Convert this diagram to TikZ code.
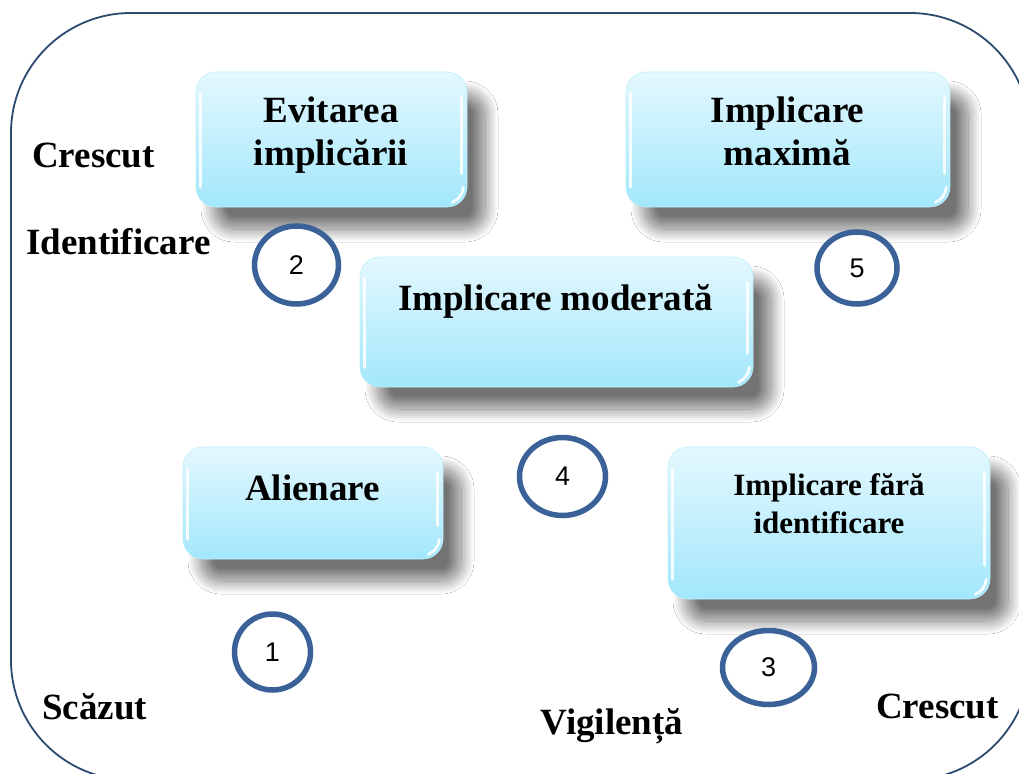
\documentclass[tikz,border=0pt]{standalone}
\usepackage{fontspec}
\setmainfont{Liberation Serif}
\newfontfamily\numfont{Liberation Sans}
\usetikzlibrary{shapes.geometric,shadows.blur,calc}
\definecolor{frameblue}{HTML}{2C4A70}
\definecolor{ringblue}{HTML}{3A6298}
\definecolor{boxtop}{HTML}{E4F8FE}
\definecolor{boxbot}{HTML}{A2E7FB}
\begin{document}
\begin{tikzpicture}[x=1pt,y=-1pt,
  bigtext/.style={font=\fontsize{37}{43}\selectfont\bfseries, inner sep=0pt, anchor=base},
  smalltext/.style={font=\fontsize{31}{38}\selectfont\bfseries, inner sep=0pt, anchor=base},
  box/.style={rectangle, rounded corners=20pt, draw=boxbot!70!white, line width=0.6pt,
    top color=boxtop, bottom color=boxbot, inner sep=0pt,
    blur shadow={shadow xshift=18pt, shadow yshift=-22pt, shadow blur radius=13pt,
      shadow blur steps=30, shadow opacity=55}},
  glint/.style={draw=white, line width=3pt, line cap=round, opacity=0.85},
  ring/.style={ellipse, draw=ringblue, fill=white, line width=5.5pt, inner sep=0pt,
    font=\numfont\fontsize{27}{32}\selectfont},
]
\useasboundingbox (0,0) rectangle (1019,773);
\fill[white] (0,0) rectangle (1019,773);
% frame
\draw[frameblue, line width=1.8pt, rounded corners=120pt] (11,13) rectangle (1030,780);

% boxes
\node[box, minimum width=271pt, minimum height=135pt] (b2) at (331.5,139.5) {};
\node[box, minimum width=324pt, minimum height=135pt] (b5) at (788,139.5) {};
\node[box, minimum width=393pt, minimum height=130pt] (b4) at (556.5,322) {};
\node[box, minimum width=260pt, minimum height=112pt] (b1) at (313,503) {};
\node[box, minimum width=322pt, minimum height=152pt] (b3) at (829,523) {};

% glossy highlights
\foreach \b in {b2,b5,b4,b1,b3}{
  \draw[glint] ($(\b.north west)+(5,22)$) -- ($(\b.south west)+(5,-20)$);
  \draw[glint] ($(\b.north east)+(-6,26)$) -- ($(\b.south east)+(-6,-34)$);
  \draw[glint] ($(\b.south east)+(-4,-20)$) to[bend left=30] ($(\b.south east)+(-15,-5)$);
}

% box texts
\node[bigtext] (t2) at (331,123) {\begin{tabular}[t]{@{}c@{}}Evitarea\\implicării\end{tabular}};
\node[bigtext] (t5) at (787.5,123) {\begin{tabular}[t]{@{}c@{}}Implicare\\maximă\end{tabular}};
\node[bigtext] (t4) at (555.5,310) {Implicare moderată};
\node[bigtext] (t1) at (312.5,500) {Alienare};
\node[smalltext] (t3) at (829,495) {\begin{tabular}[t]{@{}c@{}}Implicare fără\\identificare\end{tabular}};

% rings
\node[ring, minimum width=84pt, minimum height=78pt] (r2) at (296.5,265) {2};
\node[ring, minimum width=80pt, minimum height=72pt] (r5) at (857,268) {5};
\node[ring, minimum width=86pt, minimum height=78pt] (r4) at (562.5,476.5) {4};
\node[ring, minimum width=76pt, minimum height=76pt] (r1) at (272.5,652) {1};
\node[ring, minimum width=92pt, minimum height=74pt] (r3) at (768.5,667.5) {3};

% axis labels
\node[bigtext] (lcres) at (93.5,167) {Crescut};
\node[bigtext] (lid) at (118.5,254) {Identificare};
\node[bigtext] (lsc) at (94.5,719) {Scăzut};
\node[bigtext] (rcres) at (937.5,718) {Crescut};
\node[bigtext] (vig) at (612,734) {Vigilență};
\end{tikzpicture}
\end{document}
